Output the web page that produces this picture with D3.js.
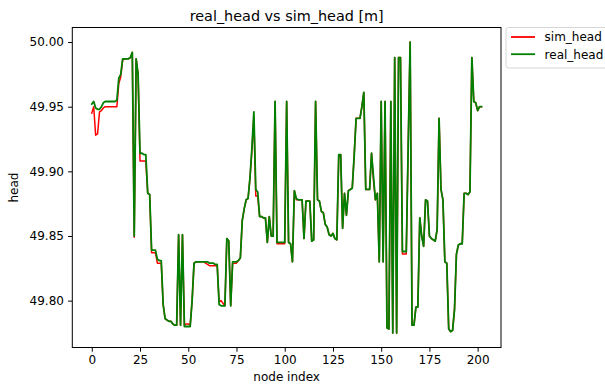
<!DOCTYPE html>
<html>
<head>
<meta charset="utf-8">
<script src="https://cdn.jsdelivr.net/npm/d3@7"></script>
<style>
  html, body { margin: 0; padding: 0; background: #fff; }
  svg { display: block; font-family: "DejaVu Sans", sans-serif; }
</style>
</head>
<body>
<svg id="chart" width="605" height="388"></svg>
<script>
// Hydraulic head per node: measured vs simulated [m]
const realHead = [
  49.952, 49.954, 49.949, 49.948, 49.948, 49.950, 49.953, 49.954, 49.954, 49.954,
  49.954, 49.954, 49.954, 49.955, 49.972, 49.975, 49.987, 49.987, 49.987, 49.987,
  49.988, 49.992, 49.850, 49.987, 49.975, 49.914, 49.914, 49.913, 49.913, 49.883,
  49.882, 49.839, 49.839, 49.839, 49.832, 49.831, 49.831, 49.797, 49.786, 49.785,
  49.784, 49.784, 49.782, 49.781, 49.781, 49.851, 49.781, 49.851, 49.780, 49.780,
  49.780, 49.780, 49.800, 49.829, 49.830, 49.830, 49.830, 49.830, 49.830, 49.830,
  49.830, 49.829, 49.829, 49.829, 49.828, 49.828, 49.797, 49.796, 49.796, 49.796,
  49.848, 49.846, 49.796, 49.830, 49.830, 49.830, 49.831, 49.833, 49.862, 49.871,
  49.878, 49.879, 49.895, 49.918, 49.946, 49.886, 49.884, 49.865, 49.865, 49.864,
  49.864, 49.845, 49.865, 49.850, 49.850, 49.954, 49.845, 49.845, 49.845, 49.845,
  49.845, 49.954, 49.845, 49.844, 49.830, 49.885, 49.879, 49.878, 49.878, 49.878,
  49.848, 49.877, 49.877, 49.877, 49.846, 49.847, 49.954, 49.878, 49.877, 49.869,
  49.868, 49.859, 49.857, 49.851, 49.850, 49.852, 49.848, 49.847, 49.913, 49.913,
  49.856, 49.883, 49.866, 49.885, 49.886, 49.887, 49.912, 49.941, 49.941, 49.941,
  49.950, 49.961, 49.886, 49.886, 49.886, 49.914, 49.896, 49.878, 49.883, 49.830,
  49.954, 49.830, 49.954, 49.779, 49.778, 49.954, 49.775, 49.988, 49.775, 49.988,
  49.988, 49.838, 49.838, 49.838, 49.920, 50.000, 49.781, 49.781, 49.795, 49.795,
  49.864, 49.850, 49.842, 49.878, 49.877, 49.850, 49.848, 49.847, 49.846, 49.855,
  49.941, 49.886, 49.878, 49.830, 49.829, 49.778, 49.776, 49.777, 49.793, 49.836,
  49.843, 49.844, 49.844, 49.883, 49.883, 49.882, 49.884, 49.988, 49.954, 49.953,
  49.947, 49.950, 49.950
];

const simHead = [
  49.945, 49.950, 49.928, 49.929, 49.946, 49.947, 49.949, 49.950, 49.950, 49.950,
  49.950, 49.950, 49.950, 49.950, 49.968, 49.973, 49.986, 49.987, 49.987, 49.987,
  49.988, 49.992, 49.849, 49.987, 49.975, 49.908, 49.908, 49.908, 49.908, 49.883,
  49.882, 49.837, 49.837, 49.837, 49.829, 49.829, 49.829, 49.797, 49.786, 49.785,
  49.784, 49.784, 49.782, 49.781, 49.781, 49.851, 49.781, 49.851, 49.781, 49.782,
  49.782, 49.781, 49.800, 49.829, 49.830, 49.830, 49.830, 49.830, 49.830, 49.829,
  49.828, 49.827, 49.827, 49.827, 49.827, 49.827, 49.799, 49.800, 49.798, 49.796,
  49.848, 49.846, 49.796, 49.829, 49.829, 49.829, 49.831, 49.833, 49.862, 49.871,
  49.878, 49.879, 49.895, 49.916, 49.942, 49.881, 49.881, 49.865, 49.865, 49.864,
  49.864, 49.845, 49.865, 49.850, 49.850, 49.954, 49.844, 49.844, 49.844, 49.844,
  49.844, 49.954, 49.845, 49.844, 49.830, 49.885, 49.878, 49.878, 49.878, 49.878,
  49.848, 49.877, 49.877, 49.877, 49.846, 49.847, 49.954, 49.878, 49.877, 49.869,
  49.868, 49.859, 49.857, 49.851, 49.850, 49.852, 49.848, 49.847, 49.911, 49.913,
  49.856, 49.883, 49.866, 49.885, 49.886, 49.887, 49.912, 49.941, 49.941, 49.941,
  49.950, 49.961, 49.886, 49.886, 49.886, 49.914, 49.893, 49.878, 49.883, 49.830,
  49.954, 49.830, 49.954, 49.779, 49.778, 49.954, 49.775, 49.988, 49.775, 49.988,
  49.988, 49.836, 49.836, 49.836, 49.920, 50.000, 49.781, 49.781, 49.795, 49.795,
  49.864, 49.850, 49.842, 49.878, 49.877, 49.850, 49.848, 49.847, 49.846, 49.855,
  49.941, 49.886, 49.878, 49.830, 49.829, 49.778, 49.776, 49.777, 49.793, 49.836,
  49.843, 49.844, 49.844, 49.883, 49.883, 49.882, 49.884, 49.988, 49.954, 49.953,
  49.947, 49.950, 49.950
];

const xTicks = [0, 25, 50, 75, 100, 125, 150, 175, 200];
const yTicks = [49.80, 49.85, 49.90, 49.95, 50.00];

const seriesNames = ["sim_head", "real_head"];
const seriesColors = ["#ff0000", "#008000"];
const seriesWidths = [1.5, 1.8];

const titleText = "real_head vs sim_head [m]";
const xLabelText = "node index";
const yLabelText = "head";

// ---- layout ----
const plot = { left: 72.3, right: 501, top: 27.5, bottom: 347.5 };
const fontSize = 12;

const svg = d3.select("#chart");

// data extents padded by 5% on each side
const nPts = realHead.length;
const xMax = nPts - 1;
const xPad = xMax * 0.05;
const allVals = realHead.concat(simHead);
const yMin = d3.min(allVals), yMax = d3.max(allVals);
const yPad = (yMax - yMin) * 0.05;

const x = d3.scaleLinear().domain([-xPad, xMax + xPad]).range([plot.left, plot.right]);
const y = d3.scaleLinear().domain([yMin - yPad, yMax + yPad]).range([plot.bottom, plot.top]);

// clip lines to the axes area
svg.append("defs").append("clipPath").attr("id", "plotClip")
  .append("rect")
  .attr("x", plot.left).attr("y", plot.top)
  .attr("width", plot.right - plot.left).attr("height", plot.bottom - plot.top);

const line = d3.line().x((d, i) => x(i)).y(d => y(d));

// simulated first, measured drawn on top
const lines = svg.append("g").attr("clip-path", "url(#plotClip)");
[simHead, realHead].forEach((series, k) => {
  lines.append("path")
    .datum(series)
    .attr("d", line)
    .attr("fill", "none")
    .attr("stroke", seriesColors[k])
    .attr("stroke-width", seriesWidths[k])
    .attr("stroke-linejoin", "round")
    .attr("stroke-linecap", "square");
});

// axes
const xAxis = d3.axisBottom(x).tickValues(xTicks).tickFormat(d3.format("d"))
  .tickSize(4.2).tickPadding(4.2).tickSizeOuter(0);
const yAxis = d3.axisLeft(y).tickValues(yTicks).tickFormat(d3.format(".2f"))
  .tickSize(4.2).tickPadding(4.2).tickSizeOuter(0);

const gx = svg.append("g").attr("transform", `translate(0,${plot.bottom})`).call(xAxis);
const gy = svg.append("g").attr("transform", `translate(${plot.left},0)`).call(yAxis);

[gx, gy].forEach(g => {
  g.select(".domain").remove();
  g.selectAll(".tick line").attr("stroke", "#000").attr("stroke-width", 1);
  g.selectAll(".tick text")
    .attr("fill", "#000")
    .style("font-size", fontSize + "px")
    .style("font-family", "'DejaVu Sans', sans-serif");
});

// frame
svg.append("rect")
  .attr("x", plot.left).attr("y", plot.top)
  .attr("width", plot.right - plot.left).attr("height", plot.bottom - plot.top)
  .attr("fill", "none").attr("stroke", "#000").attr("stroke-width", 1);

// title and axis labels
svg.append("text")
  .attr("x", (plot.left + plot.right) / 2).attr("y", plot.top - 7)
  .attr("text-anchor", "middle")
  .style("font-size", "14.4px")
  .text(titleText);

svg.append("text")
  .attr("x", (plot.left + plot.right) / 2).attr("y", 381)
  .attr("text-anchor", "middle")
  .style("font-size", fontSize + "px")
  .text(xLabelText);

svg.append("text")
  .attr("transform", `translate(18,${(plot.top + plot.bottom) / 2}) rotate(-90)`)
  .attr("text-anchor", "middle")
  .style("font-size", fontSize + "px")
  .text(yLabelText);

// legend
const lg = svg.append("g").attr("transform", "translate(506,27.5)");
lg.append("rect")
  .attr("x", 0).attr("y", 0).attr("width", 110).attr("height", 40.5)
  .attr("rx", 2.5)
  .attr("fill", "#fff").attr("fill-opacity", 0.8)
  .attr("stroke", "#d6d6d6").attr("stroke-width", 1);

seriesNames.forEach((name, k) => {
  const cy = 9.5 + k * 17.2;
  lg.append("line")
    .attr("x1", 5).attr("x2", 29).attr("y1", cy).attr("y2", cy)
    .attr("stroke", seriesColors[k]).attr("stroke-width", 1.8);
  lg.append("text")
    .attr("x", 38.6).attr("y", cy + 4.3)
    .style("font-size", fontSize + "px")
    .text(name);
});
</script>
</body>
</html>
